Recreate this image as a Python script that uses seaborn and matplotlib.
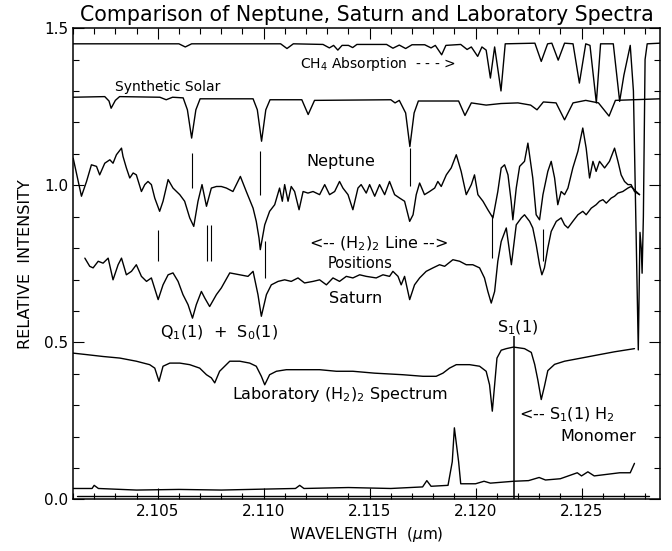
import seaborn as sns
import matplotlib.pyplot as plt
from matplotlib.ticker import MultipleLocator, FormatStrFormatter

# CH4 laboratory absorption (top trace)
ch4_wl = [2.1010, 2.1060, 2.1063, 2.1066, 2.1108, 2.1111, 2.1114, 2.1128, 2.1131, 2.1133,
          2.1135, 2.1137, 2.1140, 2.1142, 2.1144, 2.1158, 2.1161, 2.1164, 2.1167, 2.1170,
          2.1176, 2.1179, 2.1181, 2.1184, 2.1186, 2.1193, 2.1196, 2.1198, 2.1201, 2.1203,
          2.1205, 2.1207, 2.1209, 2.1212, 2.1214, 2.1228, 2.1231, 2.1234, 2.1236, 2.1239,
          2.1242, 2.1246, 2.1249, 2.1252, 2.1254, 2.1257, 2.1259, 2.1265, 2.1268, 2.1270,
          2.1273, 2.12745, 2.12768, 2.12776, 2.12782, 2.12786, 2.12792, 2.12800, 2.12810, 2.1287]
ch4_int = [1.450, 1.450, 1.440, 1.450, 1.450, 1.435, 1.450, 1.448, 1.437, 1.445,
           1.430, 1.445, 1.445, 1.438, 1.448, 1.448, 1.436, 1.446, 1.435, 1.447,
           1.447, 1.437, 1.445, 1.415, 1.445, 1.448, 1.432, 1.440, 1.410, 1.440,
           1.430, 1.341, 1.440, 1.300, 1.450, 1.452, 1.394, 1.450, 1.452, 1.398,
           1.452, 1.450, 1.325, 1.450, 1.445, 1.262, 1.450, 1.450, 1.267, 1.350,
           1.445, 1.300, 0.476, 0.850, 0.800, 0.720, 0.900, 1.400, 1.450, 1.452]

# synthetic solar spectrum
solar_wl = [2.1010, 2.1025, 2.1027, 2.1028, 2.1030, 2.1032, 2.1051, 2.1054, 2.1057, 2.1062,
            2.1064, 2.1066, 2.1068, 2.1070, 2.1095, 2.1097, 2.1099, 2.1101, 2.1103, 2.1118,
            2.1121, 2.1124, 2.1160, 2.1162, 2.1164, 2.1167, 2.1169, 2.1171, 2.1173, 2.1192,
            2.1195, 2.1198, 2.1205, 2.1212, 2.1220, 2.1226, 2.1229, 2.1232, 2.1238, 2.1242,
            2.1246, 2.1252, 2.1258, 2.1263, 2.1266, 2.1287]
solar_int = [1.280, 1.282, 1.268, 1.245, 1.270, 1.282, 1.280, 1.272, 1.280, 1.278,
             1.240, 1.150, 1.240, 1.275, 1.275, 1.240, 1.140, 1.240, 1.272, 1.272,
             1.225, 1.270, 1.272, 1.262, 1.270, 1.230, 1.123, 1.230, 1.268, 1.268,
             1.222, 1.262, 1.255, 1.260, 1.262, 1.255, 1.240, 1.265, 1.262, 1.208,
             1.262, 1.270, 1.262, 1.220, 1.270, 1.275]

# Neptune
nep_wl = [2.10101, 2.10140, 2.10164, 2.10187, 2.10211, 2.10226, 2.10250, 2.10274, 2.10289, 2.10305,
          2.10329, 2.10336, 2.10352, 2.10368, 2.10384, 2.10399, 2.10423, 2.10439, 2.10454, 2.10470,
          2.10486, 2.10509, 2.10525, 2.10549, 2.10572, 2.10604, 2.10627, 2.10651, 2.10670, 2.10690,
          2.10709, 2.10730, 2.10753, 2.10777, 2.10800, 2.10824, 2.10855, 2.10890, 2.10918, 2.10950,
          2.10965, 2.10978, 2.10984, 2.11005, 2.11028, 2.11052, 2.11075, 2.11088, 2.11099, 2.11115,
          2.11130, 2.11146, 2.11167, 2.11186, 2.11209, 2.11233, 2.11264, 2.11288, 2.11311, 2.11335,
          2.11358, 2.11374, 2.11398, 2.11421, 2.11445, 2.11460, 2.11484, 2.11500, 2.11524, 2.11547,
          2.11571, 2.11594, 2.11618, 2.11642, 2.11665, 2.11689, 2.11705, 2.11720, 2.11736, 2.11759,
          2.11783, 2.11807, 2.11822, 2.11838, 2.11862, 2.11885, 2.11909, 2.11932, 2.11956, 2.11980,
          2.11995, 2.12011, 2.12035, 2.12058, 2.12082, 2.12105, 2.12121, 2.12137, 2.12153, 2.12168,
          2.12176, 2.12192, 2.12208, 2.12231, 2.12247, 2.12270, 2.12286, 2.12302, 2.12318, 2.12341,
          2.12357, 2.12373, 2.12388, 2.12404, 2.12420, 2.12436, 2.12459, 2.12483, 2.12506, 2.12522,
          2.12538, 2.12554, 2.12569, 2.12585, 2.12609, 2.12632, 2.12656, 2.12672, 2.12687, 2.12703,
          2.12719, 2.12734, 2.12750, 2.12774]
nep_int = [1.086, 0.965, 1.012, 1.065, 1.060, 1.033, 1.070, 1.081, 1.070, 1.097,
           1.118, 1.092, 1.055, 1.023, 1.039, 1.033, 0.980, 1.002, 1.012, 1.002,
           0.959, 0.917, 0.949, 1.018, 0.991, 0.970, 0.949, 0.896, 0.869, 0.949,
           1.002, 0.933, 0.991, 0.996, 0.996, 0.991, 0.980, 1.028, 0.980, 0.927,
           0.885, 0.832, 0.795, 0.874, 0.917, 0.938, 0.991, 0.949, 1.002, 0.949,
           0.996, 0.980, 0.922, 0.980, 0.975, 0.980, 0.970, 1.002, 0.970, 0.980,
           1.012, 0.991, 0.970, 0.922, 0.991, 1.002, 0.975, 1.002, 0.965, 1.002,
           0.970, 1.012, 0.970, 0.959, 0.949, 0.885, 0.906, 0.970, 1.007, 0.970,
           0.980, 0.991, 1.012, 0.996, 1.033, 1.055, 1.097, 1.044, 0.970, 1.002,
           1.033, 0.970, 0.949, 0.922, 0.896, 0.980, 1.055, 1.065, 1.033, 0.949,
           0.890, 0.991, 1.060, 1.076, 1.134, 1.023, 0.906, 0.890, 0.970, 1.044,
           1.076, 1.023, 0.938, 0.980, 0.970, 0.991, 1.055, 1.108, 1.182, 1.118,
           1.023, 1.076, 1.044, 1.076, 1.055, 1.076, 1.118, 1.076, 1.033, 1.012,
           1.002, 1.002, 0.980, 0.970]

# Saturn
sat_wl = [2.10156, 2.10179, 2.10195, 2.10219, 2.10242, 2.10266, 2.10289, 2.10313, 2.10329, 2.10352,
          2.10376, 2.10399, 2.10423, 2.10447, 2.10470, 2.10502, 2.10525, 2.10549, 2.10572, 2.10596,
          2.10619, 2.10643, 2.10664, 2.10682, 2.10706, 2.10722, 2.10745, 2.10777, 2.10800, 2.10840,
          2.10887, 2.10926, 2.10950, 2.10973, 2.10989, 2.11013, 2.11036, 2.11068, 2.11099, 2.11130,
          2.11162, 2.11193, 2.11233, 2.11264, 2.11296, 2.11327, 2.11358, 2.11390, 2.11421, 2.11453,
          2.11484, 2.11531, 2.11563, 2.11594, 2.11610, 2.11634, 2.11649, 2.11665, 2.11689, 2.11712,
          2.11736, 2.11767, 2.11799, 2.11830, 2.11854, 2.11893, 2.11925, 2.11956, 2.11987, 2.12019,
          2.12042, 2.12058, 2.12074, 2.12090, 2.12105, 2.12121, 2.12145, 2.12169, 2.12192, 2.12216,
          2.12231, 2.12255, 2.12270, 2.12286, 2.12302, 2.12313, 2.12325, 2.12341, 2.12357, 2.12381,
          2.12404, 2.12420, 2.12436, 2.12459, 2.12483, 2.12506, 2.12522, 2.12546, 2.12569, 2.12585,
          2.12601, 2.12617, 2.12640, 2.12656, 2.12672, 2.12695, 2.12719, 2.12734, 2.12758, 2.12774]
sat_int = [0.768, 0.742, 0.737, 0.758, 0.752, 0.768, 0.699, 0.747, 0.768, 0.715,
           0.726, 0.747, 0.710, 0.694, 0.705, 0.636, 0.683, 0.715, 0.721, 0.694,
           0.652, 0.620, 0.577, 0.620, 0.662, 0.641, 0.614, 0.652, 0.673, 0.721,
           0.715, 0.710, 0.726, 0.652, 0.583, 0.652, 0.683, 0.694, 0.699, 0.694,
           0.705, 0.689, 0.694, 0.699, 0.683, 0.705, 0.694, 0.710, 0.705, 0.715,
           0.710, 0.705, 0.715, 0.710, 0.726, 0.710, 0.683, 0.710, 0.636, 0.683,
           0.705, 0.726, 0.737, 0.747, 0.742, 0.763, 0.758, 0.747, 0.747, 0.737,
           0.705, 0.662, 0.625, 0.662, 0.758, 0.821, 0.864, 0.747, 0.874, 0.896,
           0.906, 0.885, 0.864, 0.811, 0.747, 0.715, 0.737, 0.800, 0.853, 0.885,
           0.896, 0.874, 0.864, 0.885, 0.906, 0.917, 0.906, 0.927, 0.938, 0.949,
           0.954, 0.943, 0.959, 0.965, 0.975, 0.980, 0.991, 0.996, 0.980, 0.970]

# laboratory (H2)2 spectrum
lab_wl = [2.10097, 2.10164, 2.10242, 2.10321, 2.10399, 2.10462, 2.10486, 2.10506, 2.10525, 2.10557,
          2.10604, 2.10651, 2.10698, 2.10730, 2.10753, 2.10769, 2.10792, 2.10840, 2.10887, 2.10934,
          2.10965, 2.10989, 2.11005, 2.11028, 2.11060, 2.11107, 2.11186, 2.11264, 2.11343, 2.11421,
          2.11523, 2.11657, 2.11752, 2.11814, 2.11846, 2.11877, 2.11909, 2.11972, 2.12019, 2.12050,
          2.12066, 2.12079, 2.12090, 2.12101, 2.12121, 2.12145, 2.12179, 2.12231, 2.12263, 2.12279,
          2.12294, 2.12310, 2.12325, 2.12341, 2.12373, 2.12420, 2.12499, 2.12577, 2.12656, 2.12703,
          2.12750]
lab_int = [0.466, 0.461, 0.455, 0.450, 0.440, 0.429, 0.418, 0.376, 0.424, 0.434,
           0.434, 0.429, 0.418, 0.397, 0.387, 0.371, 0.408, 0.440, 0.440, 0.434,
           0.424, 0.392, 0.365, 0.397, 0.408, 0.413, 0.413, 0.413, 0.408, 0.408,
           0.402, 0.397, 0.392, 0.392, 0.402, 0.418, 0.429, 0.429, 0.424, 0.408,
           0.365, 0.281, 0.365, 0.450, 0.475, 0.480, 0.485, 0.480, 0.468, 0.430,
           0.380, 0.318, 0.360, 0.410, 0.430, 0.440, 0.450, 0.460, 0.470, 0.475,
           0.480]

# bottom trace near zero with the emission feature
low_wl = [2.1010, 2.1019, 2.1020, 2.1022, 2.1040, 2.1060, 2.1080, 2.1100, 2.1115, 2.1117,
          2.1119, 2.1140, 2.1160, 2.1175, 2.1177, 2.1179, 2.1187, 2.1189, 2.1190, 2.1192,
          2.1193, 2.1200, 2.1204, 2.1207, 2.1218, 2.1225, 2.1230, 2.1233, 2.1240, 2.1248,
          2.1250, 2.1253, 2.1256, 2.1262, 2.1268, 2.1273, 2.1275]
low_int = [0.035, 0.035, 0.045, 0.035, 0.030, 0.032, 0.030, 0.033, 0.035, 0.045,
           0.035, 0.038, 0.035, 0.040, 0.060, 0.042, 0.045, 0.120, 0.228, 0.120,
           0.050, 0.050, 0.058, 0.052, 0.058, 0.060, 0.070, 0.062, 0.066, 0.085,
           0.075, 0.088, 0.075, 0.080, 0.085, 0.085, 0.115]

zero_wl = [2.1012, 2.1282]
zero_int = [0.012, 0.012]

# (H2)2 line position markers
mark_wl = [2.10664, 2.10985, 2.11689, 2.10502, 2.10734, 2.10750, 2.11008, 2.12077, 2.12318]
mark_lo = [0.991, 0.970, 0.997, 0.758, 0.758, 0.758, 0.705, 0.768, 0.760]
mark_hi = [1.102, 1.108, 1.118, 0.858, 0.874, 0.874, 0.821, 0.906, 0.860]

# S1(1) H2 monomer position
mono_wl = 2.1218
mono_lo, mono_hi = 0.0, 0.52

sns.set_style("ticks")
plt.rcParams['font.family'] = ['DejaVu Sans']
for key in ['text.color', 'axes.labelcolor', 'xtick.color', 'ytick.color', 'axes.edgecolor']:
    plt.rcParams[key] = 'black'

fig, ax = plt.subplots(figsize=(6.72, 5.51), dpi=100)
fig.subplots_adjust(left=0.1086, right=0.982, bottom=0.0935, top=0.949)

traces = [(ch4_wl, ch4_int), (solar_wl, solar_int), (nep_wl, nep_int), (sat_wl, sat_int),
          (lab_wl, lab_int), (low_wl, low_int), (zero_wl, zero_int)]
for wl, inten in traces:
    sns.lineplot(x=wl, y=inten, ax=ax, color="black", lw=1.0, estimator=None, sort=False)

ax.vlines(mark_wl, mark_lo, mark_hi, color="black", lw=0.8)
ax.vlines(mono_wl, mono_lo, mono_hi, color="black", lw=1.1)

ax.set_xlim(2.1010, 2.1287)
ax.set_ylim(0, 1.5)
ax.xaxis.set_major_locator(MultipleLocator(0.005))
ax.xaxis.set_minor_locator(MultipleLocator(0.001))
ax.yaxis.set_major_locator(MultipleLocator(0.5))
ax.yaxis.set_minor_locator(MultipleLocator(0.1))
ax.xaxis.set_major_formatter(FormatStrFormatter('%.3f'))
ax.yaxis.set_major_formatter(FormatStrFormatter('%.1f'))
ax.tick_params(which='both', direction='in', top=True, right=True, labelsize=11, width=0.8)
ax.tick_params(which='major', length=8)
ax.tick_params(which='minor', length=4)
for s in ax.spines.values():
    s.set_linewidth(1.1)

ax.set_xlabel("WAVELENGTH  ($\\mu$m)", fontsize=11)
ax.set_ylabel("RELATIVE  INTENSITY", fontsize=11.5, labelpad=8)
ax.set_title("Comparison of Neptune, Saturn and Laboratory Spectra", fontsize=14.8, pad=5)

small = 10
big = 11.5
ax.text(2.10297, 1.314, "Synthetic Solar", fontsize=small, va="center")
ax.text(2.1117, 1.385, "CH$_4$ Absorption  - - - >", fontsize=small, va="center")
ax.text(2.11363, 1.076, "Neptune", fontsize=big, ha="center", va="center")
ax.text(2.1154, 0.815, "<-- (H$_2$)$_2$ Line -->", fontsize=big, ha="center", va="center")
ax.text(2.11457, 0.752, "Positions", fontsize=10.5, ha="center", va="center")
ax.text(2.11434, 0.641, "Saturn", fontsize=big, ha="center", va="center")
ax.text(2.10789, 0.53, "Q$_1$(1)  +  S$_0$(1)", fontsize=big, ha="center", va="center")
ax.text(2.1220, 0.545, "S$_1$(1)", fontsize=big, ha="center", va="center")
ax.text(2.1136, 0.335, "Laboratory (H$_2$)$_2$ Spectrum", fontsize=big, ha="center", va="center")
ax.text(2.12204, 0.27, "<-- S$_1$(1) H$_2$", fontsize=big, va="center")
ax.text(2.12577, 0.201, "Monomer", fontsize=big, ha="center", va="center")

fig.savefig("out.png", dpi=100)
